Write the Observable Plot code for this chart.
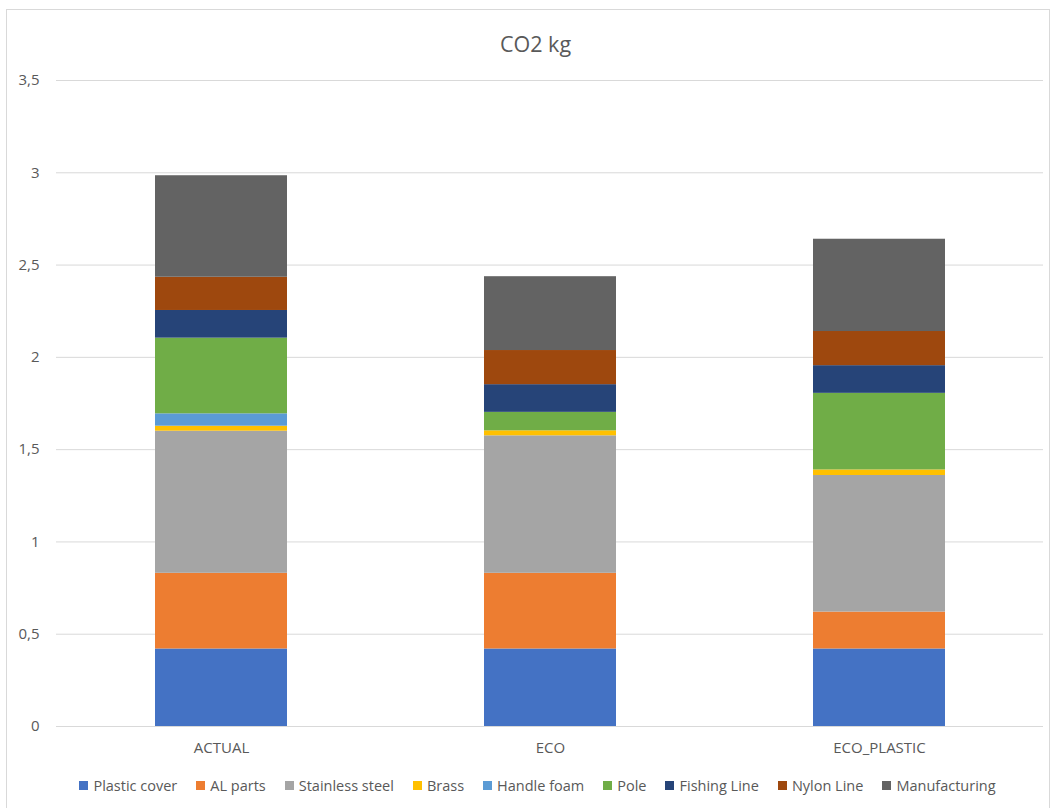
<!DOCTYPE html>
<html>
<head>
<meta charset="utf-8">
<script src="https://cdn.jsdelivr.net/npm/d3@7"></script>
<script src="https://cdn.jsdelivr.net/npm/@observablehq/plot@0.6"></script>
<style>
  html, body { margin: 0; padding: 0; background: #fff; }
  #wrap { position: relative; width: 1055px; height: 808px; overflow: hidden; font-family: "Open Sans", sans-serif; }
  #frame { position: absolute; left: 6px; top: 9px; width: 1044px; height: 810px; border: 1px solid #d9d9d9; box-sizing: border-box; }
  #title { position: absolute; left: 0; width: 1071px; top: 29px; text-align: center; font-size: 21.5px; color: #595959; }
  #chart { position: absolute; left: 0; top: 0; }
  #legend { position: absolute; left: 0; width: 1075px; top: 776px; display: flex; justify-content: center; gap: 19px; font-size: 14.5px; color: #595959; }
  .item { display: flex; align-items: center; gap: 5px; white-space: nowrap; }
  .sw { width: 9px; height: 9px; display: inline-block; }
</style>
</head>
<body>
<div id="wrap">
  <div id="frame"></div>
  <div id="chart"></div>
  <div id="title">CO2 kg</div>
  <div id="legend"></div>
</div>
<script>
const categories = ["ACTUAL", "ECO", "ECO_PLASTIC"];
const seriesNames = ["Plastic cover", "AL parts", "Stainless steel", "Brass", "Handle foam", "Pole", "Fishing Line", "Nylon Line", "Manufacturing"];
const seriesColors = ["#4472C4", "#ED7D31", "#A5A5A5", "#FFC000", "#5B9BD5", "#70AD47", "#264478", "#9E480E", "#636363"];

const plasticCover   = [0.42, 0.42, 0.42];
const alParts        = [0.41, 0.41, 0.20];
const stainlessSteel = [0.77, 0.745, 0.74];
const brass          = [0.027, 0.027, 0.03];
const handleFoam     = [0.067, 0, 0];
const pole           = [0.41, 0.10, 0.415];
const fishingLine    = [0.15, 0.15, 0.15];
const nylonLine      = [0.18, 0.185, 0.185];
const manufacturing  = [0.55, 0.40, 0.50];

const yTicks = [0, 0.5, 1, 1.5, 2, 2.5, 3, 3.5];

const seriesValues = [plasticCover, alParts, stainlessSteel, brass, handleFoam, pole, fishingLine, nylonLine, manufacturing];
const rows = [];
seriesNames.forEach((s, i) => {
  categories.forEach((c, j) => rows.push({category: c, series: s, value: seriesValues[i][j]}));
});

const chart = Plot.plot({
  width: 1055,
  height: 760,
  marginLeft: 56,
  marginRight: 12,
  marginTop: 80,
  marginBottom: 34,
  style: {fontFamily: "'Open Sans', sans-serif", fontSize: "15px", color: "#595959", background: "transparent"},
  x: {domain: categories, paddingInner: 0.6, paddingOuter: 0.3, label: null},
  y: {domain: [0, 3.5], ticks: yTicks, label: null},
  color: {domain: seriesNames, range: seriesColors},
  marks: [
    Plot.gridY(yTicks, {stroke: "#d9d9d9", strokeOpacity: 1}),
    Plot.axisY({ticks: yTicks, tickSize: 0, tickPadding: 17, fontSize: 15, tickFormat: d => String(d).replace(".", ","), label: null, fill: "#595959"}),
    Plot.axisX({tickSize: 0, tickPadding: 16, fontSize: 15, label: null, fill: "#595959"}),
    Plot.barY(rows, {x: "category", y: "value", z: "series", fill: "series", order: seriesNames}),
    Plot.ruleY([0], {stroke: "#d9d9d9"})
  ]
});
document.getElementById("chart").appendChild(chart);

const legend = d3.select("#legend");
seriesNames.forEach((s, i) => {
  const it = legend.append("div").attr("class", "item");
  it.append("span").attr("class", "sw").style("background", seriesColors[i]);
  it.append("span").text(s);
});
</script>
</body>
</html>
